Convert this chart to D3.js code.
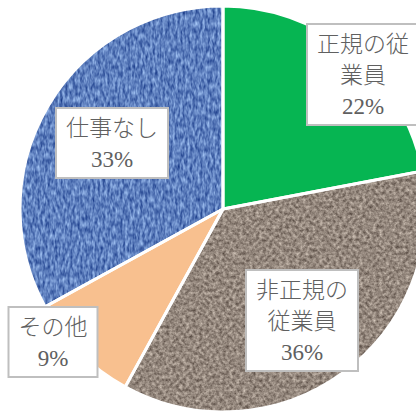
<!DOCTYPE html>
<html>
<head>
<meta charset="utf-8">
<script src="https://cdn.jsdelivr.net/npm/d3@7"></script>
<style>
  html, body { margin: 0; padding: 0; background: #fff; overflow: hidden; }
</style>
</head>
<body>
<div id="canvas"></div>
<script>
"use strict"

// data
let categories = ["正規の従業員", "非正規の従業員", "その他", "仕事なし"]
let values = [22, 36, 9, 33]
let labelLines = [["正規の従", "業員", "22%"], ["非正規の", "従業員", "36%"], ["その他", "9%"], ["仕事なし", "33%"]]

let svgWidth = 416
let svgHeight = 415
let cx = 223
let cy = 209
let radius = 203

// label box layout: center x, top y, width
let labelBoxes = [
    { x: 363, y: 24, w: 112 },
    { x: 302, y: 270, w: 112 },
    { x: 53, y: 307, w: 89 },
    { x: 112, y: 108, w: 112 }
]
let lineHeight = 31

let drawing = d3.select("#canvas")
    .append("svg")
    .attr("width", svgWidth)
    .attr("height", svgHeight)

let defs = drawing.append("defs")

// green gradient
let grad = defs.append("radialGradient")
    .attr("id", "greenGrad")
    .attr("gradientUnits", "userSpaceOnUse")
    .attr("cx", cx + 95).attr("cy", cy - 65).attr("r", 190)
grad.append("stop").attr("offset", "0%").attr("stop-color", "#007f36")
grad.append("stop").attr("offset", "55%").attr("stop-color", "#009a43")
grad.append("stop").attr("offset", "100%").attr("stop-color", "#06b552")

// textures
function noiseFilter(id, freq, octaves, seed, matrix) {
    let f = defs.append("filter").attr("id", id)
        .attr("x", 0).attr("y", 0).attr("width", 1).attr("height", 1)
        .attr("color-interpolation-filters", "sRGB")
    f.append("feTurbulence")
        .attr("type", "fractalNoise")
        .attr("baseFrequency", freq)
        .attr("numOctaves", octaves)
        .attr("seed", seed)
        .attr("result", "noise")
    f.append("feColorMatrix")
        .attr("in", "noise")
        .attr("type", "matrix")
        .attr("values", matrix)
        .attr("result", "col")
    f.append("feComposite")
        .attr("in", "col").attr("in2", "SourceGraphic").attr("operator", "in")
}
noiseFilter("blueTex", "0.4 0.16", 2, 3,
    "0.7 0 0 0 0.02  0.7 0 0 0 0.15  0.55 0 0 0 0.47  0 0 0 0 1")
noiseFilter("brownTex", "0.3", 3, 7,
    "0.6 0 0 0 0.28  0.6 0 0 0 0.23  0.58 0 0 0 0.2  0 0 0 0 1")

let fills = ["url(#greenGrad)", "#8c7f76", "#f8c08f", "#5b7fc0"]
let filters = [null, "url(#brownTex)", null, "url(#blueTex)"]

let pie = d3.pie().sort(null).value(d => d)
let arc = d3.arc().innerRadius(0).outerRadius(radius)
let arcs = pie(values)

let slices = drawing.append("g")
    .attr("transform", `translate(${cx},${cy})`)

slices.selectAll("path.slice")
    .data(arcs)
    .join("path")
    .attr("class", "slice")
    .attr("d", arc)
    .attr("fill", (d, i) => fills[i])
    .attr("filter", (d, i) => filters[i])

slices.selectAll("path.edge")
    .data(arcs)
    .join("path")
    .attr("class", "edge")
    .attr("d", arc)
    .attr("fill", "none")
    .attr("stroke", "#ffffff")
    .attr("stroke-width", 3)
    .attr("stroke-linejoin", "round")

// labels
let labels = drawing.append("g")
    .selectAll("g")
    .data(categories)
    .join("g")
    .attr("transform", (d, i) => `translate(${labelBoxes[i].x},${labelBoxes[i].y})`)

labels.append("rect")
    .attr("x", (d, i) => -labelBoxes[i].w / 2)
    .attr("y", 0)
    .attr("width", (d, i) => labelBoxes[i].w)
    .attr("height", (d, i) => labelLines[i].length * lineHeight + 8)
    .attr("fill", "#ffffff")
    .attr("stroke", "#bfbfbf")
    .attr("stroke-width", 2)

labels.each(function (d, i) {
    d3.select(this).selectAll("text")
        .data(labelLines[i])
        .join("text")
        .attr("x", 0)
        .attr("y", (t, j) => 4 + lineHeight * j + lineHeight / 2)
        .attr("dy", "0.36em")
        .attr("text-anchor", "middle")
        .attr("font-family", "'Liberation Serif', 'Noto Sans CJK JP', serif")
        .attr("font-size", 23)
        .attr("font-weight", 300)
        .attr("fill", "#606060")
        .text(t => t)
})
</script>
</body>
</html>
